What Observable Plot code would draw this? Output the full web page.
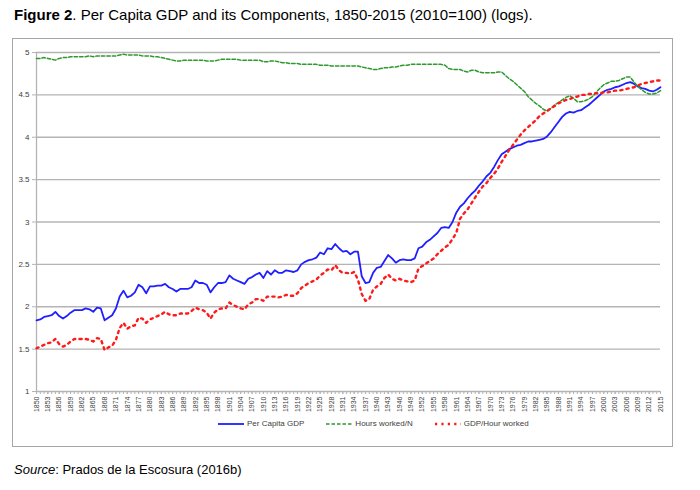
<!DOCTYPE html>
<html><head><meta charset="utf-8">
<script src="https://cdn.jsdelivr.net/npm/d3@7"></script>
<script src="https://cdn.jsdelivr.net/npm/@observablehq/plot@0.6"></script>
<style>
body{margin:0;background:#fff;font-family:"Liberation Sans",Arial,sans-serif;color:#000;}
#title{position:absolute;left:14px;top:6px;font-size:15px;white-space:nowrap;}
#box{position:absolute;left:12px;top:38px;width:661px;height:409px;border:1px solid #a6a6a6;box-sizing:border-box;}
#chart{position:absolute;left:0;top:0;}
#legend{position:absolute;left:205px;top:380px;font-size:8px;color:#404040;display:flex;align-items:center;white-space:nowrap;}
#legend span{display:inline-flex;align-items:center;margin-right:22px;}
#legend svg{margin-right:3px;}
#source{position:absolute;left:14px;top:462px;font-size:13px;white-space:nowrap;}
</style></head>
<body>
<div id="title"><b>Figure 2</b>. Per Capita GDP and its Components, 1850-2015 (2010=100) (logs).</div>
<div id="box"><div id="chart"></div><div id="legend"></div></div>
<div id="source"><i>Source</i>: Prados de la Escosura (2016b)</div>
<script>
const startYear = 1850;
const gdpPerCapita = [
1.84,1.85,1.88,1.89,1.90,1.94,1.89,1.86,1.89,1.93,
1.96,1.96,1.96,1.98,1.97,1.94,1.99,1.98,1.84,1.87,
1.90,1.98,2.12,2.19,2.11,2.13,2.17,2.26,2.23,2.16,
2.24,2.24,2.25,2.25,2.27,2.23,2.21,2.18,2.21,2.21,
2.21,2.23,2.31,2.28,2.28,2.26,2.17,2.23,2.28,2.28,
2.29,2.37,2.33,2.31,2.29,2.27,2.33,2.35,2.38,2.40,
2.34,2.42,2.38,2.43,2.40,2.40,2.43,2.42,2.41,2.43,
2.50,2.53,2.55,2.56,2.58,2.64,2.62,2.69,2.68,2.74,
2.69,2.65,2.66,2.62,2.65,2.65,2.36,2.28,2.29,2.40,
2.46,2.47,2.54,2.61,2.57,2.52,2.55,2.56,2.55,2.55,
2.57,2.69,2.71,2.76,2.79,2.83,2.87,2.93,2.94,2.93,
3.00,3.11,3.18,3.22,3.28,3.33,3.37,3.43,3.48,3.54,
3.58,3.65,3.73,3.80,3.83,3.86,3.88,3.90,3.91,3.93,
3.95,3.95,3.96,3.97,3.98,4.01,4.06,4.12,4.18,4.24,
4.28,4.30,4.29,4.31,4.32,4.35,4.38,4.42,4.46,4.50,
4.54,4.56,4.57,4.59,4.60,4.62,4.64,4.65,4.63,4.60,
4.58,4.57,4.55,4.54,4.56,4.59];
const hoursWorkedPerN = [
4.93,4.93,4.94,4.93,4.92,4.91,4.93,4.94,4.94,4.95,
4.95,4.95,4.95,4.95,4.96,4.95,4.96,4.96,4.96,4.96,
4.96,4.96,4.97,4.98,4.97,4.97,4.97,4.97,4.96,4.96,
4.96,4.95,4.95,4.94,4.93,4.92,4.91,4.90,4.90,4.91,
4.91,4.91,4.91,4.91,4.91,4.90,4.90,4.90,4.91,4.92,
4.92,4.92,4.92,4.92,4.91,4.91,4.91,4.91,4.91,4.91,
4.89,4.89,4.90,4.90,4.89,4.88,4.88,4.87,4.87,4.87,
4.86,4.86,4.86,4.86,4.86,4.85,4.85,4.85,4.84,4.84,
4.84,4.84,4.84,4.84,4.84,4.84,4.83,4.82,4.81,4.80,
4.80,4.81,4.82,4.82,4.83,4.83,4.84,4.85,4.85,4.86,
4.86,4.86,4.86,4.86,4.86,4.86,4.86,4.86,4.85,4.81,
4.80,4.80,4.80,4.78,4.77,4.79,4.79,4.77,4.76,4.76,
4.76,4.76,4.77,4.77,4.73,4.69,4.66,4.62,4.58,4.54,
4.48,4.44,4.40,4.37,4.33,4.31,4.34,4.38,4.41,4.44,
4.47,4.49,4.46,4.42,4.42,4.43,4.45,4.48,4.53,4.58,
4.62,4.64,4.66,4.66,4.67,4.69,4.71,4.71,4.65,4.60,
4.56,4.53,4.51,4.51,4.52,4.55];
const gdpPerHourWorked = [
1.51,1.53,1.55,1.57,1.58,1.62,1.56,1.53,1.55,1.59,
1.62,1.62,1.62,1.62,1.61,1.59,1.63,1.62,1.49,1.52,
1.54,1.61,1.75,1.81,1.74,1.77,1.78,1.87,1.86,1.81,
1.85,1.87,1.89,1.91,1.94,1.91,1.90,1.90,1.92,1.92,
1.92,1.95,1.99,1.97,1.96,1.93,1.86,1.93,1.97,1.98,
1.98,2.05,2.02,2.00,1.98,1.97,2.03,2.05,2.09,2.09,
2.07,2.12,2.12,2.12,2.11,2.12,2.14,2.13,2.13,2.16,
2.22,2.25,2.28,2.30,2.32,2.37,2.40,2.44,2.43,2.49,
2.43,2.40,2.40,2.39,2.41,2.32,2.15,2.07,2.09,2.20,
2.24,2.27,2.34,2.38,2.33,2.31,2.33,2.31,2.30,2.29,
2.31,2.45,2.48,2.51,2.54,2.57,2.62,2.66,2.70,2.73,
2.80,2.87,3.04,3.10,3.15,3.22,3.29,3.36,3.42,3.46,
3.52,3.57,3.63,3.71,3.78,3.85,3.91,3.97,4.03,4.08,
4.12,4.16,4.20,4.25,4.28,4.31,4.34,4.37,4.40,4.42,
4.44,4.45,4.47,4.48,4.50,4.50,4.51,4.51,4.52,4.52,
4.53,4.53,4.54,4.55,4.55,4.56,4.57,4.58,4.59,4.61,
4.63,4.64,4.65,4.66,4.67,4.67];
const yTickValues = [1,1.5,2,2.5,3,3.5,4,4.5,5];
const seriesNames = ["Per Capita GDP","Hours worked/N","GDP/Hour worked"];
const seriesColors = ["#1f1fff","#2e9a2e","#ff1a1a"];

const years = gdpPerCapita.map((_, i) => startYear + i);
const labelYears = years.filter(y => (y - startYear) % 3 === 0);
const rows = years.map((y, i) => ({year: y, gdp: gdpPerCapita[i], hours: hoursWorkedPerN[i], prod: gdpPerHourWorked[i]}));

const chart = Plot.plot({
  width: 659, height: 376,
  marginLeft: 23, marginRight: 12, marginTop: 13, marginBottom: 24,
  style: {fontFamily: "'Liberation Sans', Arial, sans-serif", background: "transparent"},
  x: {domain: [1850, 2015], label: null},
  y: {domain: [1, 5], label: null},
  marks: [
    Plot.gridY(yTickValues, {stroke: "#b4b4b4", strokeOpacity: 1, strokeWidth: 1.3}),
    Plot.axisY(yTickValues, {tickSize: 4, stroke: "#b4b4b4", fontSize: 8, fill: "#404040", tickFormat: d => String(d), tickPadding: 3, label: null}),
    Plot.ruleX([years[0]], {stroke: "#b4b4b4", strokeWidth: 1.3}),
    Plot.axisX(years, {tickSize: 3, stroke: "#b4b4b4", tickFormat: () => "", label: null}),
    Plot.axisX(labelYears, {tickSize: 3, stroke: "#b4b4b4", tickRotate: -90, fontSize: 7, fill: "#404040", tickFormat: d => String(d), tickPadding: 2, label: null}),
    Plot.lineY(rows, {x: "year", y: "gdp", stroke: seriesColors[0], strokeWidth: 1.8}),
    Plot.lineY(rows, {x: "year", y: "hours", stroke: seriesColors[1], strokeWidth: 1.5, strokeDasharray: "3.5,2"}),
    Plot.lineY(rows, {x: "year", y: "prod", stroke: seriesColors[2], strokeWidth: 2.4, strokeDasharray: "2.2,4.2"})
  ]
});
document.getElementById("chart").appendChild(chart);

const dashes = [null, "3.5,2", "2.2,4.2"];
const widths = [1.8, 1.5, 2.4];
const lg = document.getElementById("legend");
seriesNames.forEach((name, i) => {
  const s = document.createElement("span");
  s.innerHTML = `<svg width="26" height="6"><line x1="0" y1="3" x2="26" y2="3" stroke="${seriesColors[i]}" stroke-width="${widths[i]}" ${dashes[i] ? `stroke-dasharray="${dashes[i]}"` : ""}/></svg>${name}`;
  lg.appendChild(s);
});
</script>
</body></html>
